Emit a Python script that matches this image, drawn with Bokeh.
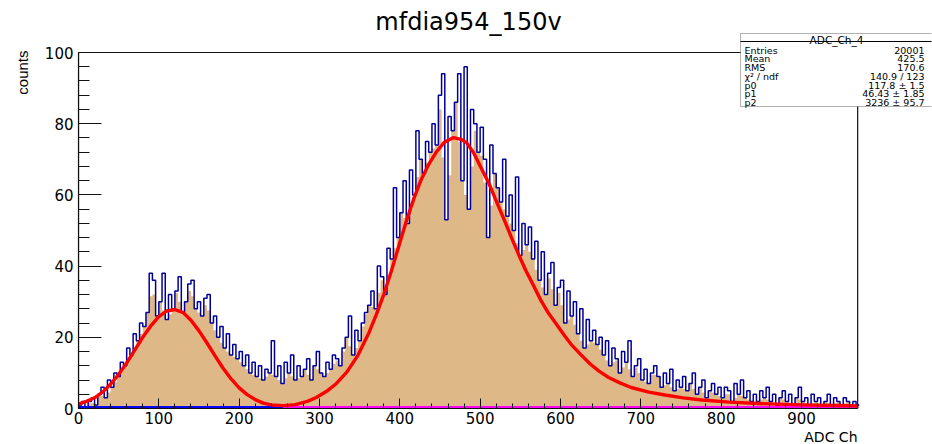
import numpy as np
from math import pi
from bokeh.plotting import figure
from bokeh.models import Range1d, SingleIntervalTicker, Label, BoxAnnotation, Title
from bokeh.embed import file_html
from bokeh.resources import INLINE

# ---------------- data ----------------
bin_width = 4  # ADC channels per bin
counts = [
    1, 2, 0, 2, 3, 1, 4, 6, 3, 8,            # 0-40
    6, 10, 9, 13, 12, 17, 15, 21, 19, 24,    # 40-80
    23, 27, 38, 36, 26, 30, 38, 25, 32, 28,  # 80-120
    33, 37, 27, 30, 35, 36, 28, 30, 26, 31,  # 120-160
    32, 24, 26, 20, 23, 17, 21, 15, 18, 14,  # 160-200
    16, 12, 15, 10, 13, 9, 12, 8, 11, 10,    # 200-240
    19, 9, 12, 7, 13, 10, 15, 8, 12, 9,      # 240-280
    11, 14, 8, 12, 16, 10, 9, 13, 11, 15,    # 280-320
    14, 12, 17, 20, 26, 15, 22, 19, 24, 27,  # 320-360
    29, 33, 28, 40, 37, 32, 45, 42, 62, 48,  # 360-400
    55, 64, 52, 67, 60, 78, 70, 66, 75, 72,  # 400-440
    80, 74, 88, 94, 53, 82, 78, 86, 94, 64,  # 440-480
    96, 56, 84, 80, 72, 79, 70, 48, 74, 66,  # 480-520
    62, 58, 70, 54, 60, 50, 65, 43, 52, 46,  # 520-560
    51, 42, 47, 36, 44, 32, 38, 41, 29, 34,  # 560-600
    36, 24, 33, 26, 30, 21, 28, 17, 25, 19,  # 600-640
    22, 18, 20, 15, 19, 12, 17, 14, 10, 16,  # 640-680
    13, 19, 9, 12, 14, 8, 11, 7, 10, 12,     # 680-720
    9, 6, 10, 7, 11, 5, 8, 6, 9, 5,          # 720-760
    7, 10, 4, 6, 8, 3, 5, 7, 4, 6,           # 760-800
    3, 6, 5, 2, 7, 4, 8, 3, 5, 2,            # 800-840
    4, 2, 5, 3, 6, 2, 4, 1, 3, 5,            # 840-880
    2, 4, 1, 3, 6, 2, 3, 1, 4, 2,            # 880-920
    3, 1, 2, 4, 1, 3, 2, 1, 3, 2,            # 920-960
    1, 2, 1,                                 # 960-972
]

# fitted curve (red)
fit_x = [0, 10, 20, 30, 40, 50, 60, 70, 80, 90, 100, 110, 120, 130, 140, 150,
         160, 170, 180, 190, 200, 210, 220, 230, 240, 255, 270, 285, 296, 310,
         320, 334, 348, 362, 371, 380, 390, 399, 408, 418, 427, 436, 446, 455,
         467, 477, 483, 492, 501, 511, 520, 530, 539, 548, 557, 567, 576, 585,
         595, 604, 613, 625, 637, 648, 660, 674, 688, 710, 730, 753, 776, 810,
         846, 880, 916, 945, 970]
fit_y = [1.2, 2.0, 3.0, 4.6, 6.8, 9.6, 12.8, 16.4, 20.0, 23.2, 25.8, 27.4, 27.8,
         27.0, 24.8, 21.8, 18.4, 14.8, 11.3, 8.3, 5.8, 3.9, 2.5, 1.5, 1.0, 0.8,
         1.1, 2.0, 3.1, 5.0, 6.8, 10.2, 15.0, 21.5, 26.5, 32.0, 39.0, 45.8, 52.5,
         59.3, 64.5, 68.6, 72.2, 74.7, 76.1, 75.5, 74.7, 71.8, 67.7, 63.2, 58.3,
         53.0, 48.0, 43.2, 38.7, 34.3, 30.2, 26.8, 23.7, 20.8, 18.1, 15.2, 12.5,
         10.5, 8.7, 7.2, 5.9, 4.6, 3.8, 3.0, 2.4, 1.8, 1.4, 1.15, 0.94, 0.84, 0.75]

# near-zero component functions drawn along the baseline
comp1_x = [0, 255]
comp1_y = [0.3, 0.3]
comp2_x = [255, 970]
comp2_y = [0.3, 0.3]

x_min, x_max = 0, 970
y_min, y_max = 0, 100
x_ticks_interval = 100
y_ticks_interval = 20

stat_title = "ADC_Ch_4"
stat_names = ["Entries", "Mean", "RMS", "χ² / ndf", "p0", "p1", "p2"]
stat_values = ["20001", "425.5", "170.6", "140.9 / 123", "117.8 ± 1.5",
               "46.43 ± 1.85", "3236 ± 95.7"]

title_text = "mfdia954_150v"
x_label = "ADC Ch"
y_label = "counts"

# ---------------- layout geometry (pixels) ----------------
W, H = 932, 444
FL, FR, FT, FB = 76, 931, 0, 408       # plotting frame (canvas px)
AX_R, AX_T = 857, 52                   # where x_max / y_max sit
px_per_x = (AX_R - FL) / (x_max - x_min)
px_per_y = (FB - AX_T) / (y_max - y_min)
x_end = x_min + (FR - FL) / px_per_x
y_end = y_min + (FB - FT) / px_per_y

FONT = "DejaVu Sans"
p = figure(width=W, height=H, output_backend="svg", toolbar_location=None,
           x_range=Range1d(x_min, x_end), y_range=Range1d(y_min, y_end),
           min_border_left=FL, min_border_right=W - FR,
           min_border_top=FT, min_border_bottom=H - FB)
p.title.text = ""
p.background_fill_color = "white"
p.border_fill_color = "white"
p.outline_line_color = None
p.xgrid.visible = False
p.ygrid.visible = False

edges = np.arange(len(counts) + 1) * bin_width
vals = np.array(counts, dtype=float)
# fill: lower envelope (spikes above neighbours are left unfilled)
nb = (np.r_[vals[0], vals[:-1]] + np.r_[vals[1:], vals[-1]]) / 2.0
fill_top = np.minimum(vals, nb)
xs = np.repeat(edges, 2)[1:-1]
p.varea(x=xs, y1=0, y2=np.repeat(fill_top, 2), fill_color="#DEB887", fill_alpha=1.0)

p.step(x=list(edges[:-1]) + [edges[-1]], y=list(vals) + [vals[-1]], mode="after",
       line_color="#000099", line_width=1.5)

p.line(comp1_x, comp1_y, line_color="#0000ff", line_width=3)
p.line(comp2_x, comp2_y, line_color="#ff00ff", line_width=3)
p.line(fit_x, fit_y, line_color="#ff0000", line_width=3.4, line_join="round")

# ROOT-style frame around the histogram range
p.quad(left=[x_min], right=[x_max], bottom=[y_min], top=[y_max],
       fill_color=None, line_color="#111111", line_width=1.2)

for ax, iv, tin, mtin, bnds in ((p.xaxis, x_ticks_interval, 10, 5, (x_min, x_max)),
                                (p.yaxis, y_ticks_interval, 23, 11, (y_min, y_max))):
    ax.ticker = SingleIntervalTicker(interval=iv, num_minor_ticks=5)
    ax.bounds = bnds
    ax.major_tick_in = tin
    ax.major_tick_out = 0
    ax.minor_tick_in = mtin
    ax.minor_tick_out = 0
    ax.axis_line_color = "#111111"
    ax.axis_line_width = 1.2
    ax.major_tick_line_color = "#111111"
    ax.minor_tick_line_color = "#111111"
    ax.major_label_text_font = FONT
    ax.major_label_text_font_size = "15px"
    ax.major_label_text_color = "black"
p.xaxis.major_label_standoff = 3
p.yaxis.major_label_standoff = 5

# axis titles (ROOT puts them at the far end of each axis)
p.add_layout(Title(text=x_label, align="right", offset=FR - AX_R, standoff=0,
                   text_font=FONT, text_font_size="14px", text_font_style="normal",
                   text_color="black"), "below")
p.add_layout(Title(text=y_label, align="right", offset=AX_T - 2, standoff=22,
                   text_font="Liberation Sans", text_font_size="15px",
                   text_font_style="normal", text_color="black"), "left")

# texts inside the frame (screen units: x from frame left, y up from frame bottom)
def sx(cx):
    return cx - FL
def sy(cy):
    return FB - cy

p.add_layout(Label(x=sx(466), y=sy(21), x_units="screen", y_units="screen",
                   text=title_text, text_align="center", text_baseline="alphabetic",
                   text_font=FONT, text_font_size="24px", text_color="black"))

# stats box
p.add_layout(BoxAnnotation(left=sx(738), right=sx(930), top=sy(33), bottom=sy(106),
                           left_units="screen", right_units="screen",
                           top_units="screen", bottom_units="screen",
                           fill_color="white", fill_alpha=1.0,
                           line_color="black", line_width=1))
p.add_layout(BoxAnnotation(left=sx(738), right=sx(930), top=sy(40.5), bottom=sy(41.5),
                           left_units="screen", right_units="screen",
                           top_units="screen", bottom_units="screen",
                           fill_color="black", fill_alpha=1.0, line_color=None))
p.add_layout(Label(x=sx(834), y=sy(39.5), x_units="screen", y_units="screen",
                   text=stat_title, text_align="center", text_baseline="alphabetic",
                   text_font=FONT, text_font_size="10.5px", text_color="black"))
for i, (nm, vv) in enumerate(zip(stat_names, stat_values)):
    base = 49.5 + 8.75 * i
    p.add_layout(Label(x=sx(742), y=sy(base), x_units="screen", y_units="screen",
                       text=nm, text_align="left", text_baseline="alphabetic",
                       text_font=FONT, text_font_size="9.5px", text_color="black"))
    p.add_layout(Label(x=sx(922), y=sy(base), x_units="screen", y_units="screen",
                       text=vv, text_align="right", text_baseline="alphabetic",
                       text_font=FONT, text_font_size="9.5px", text_color="black"))

open("out.html", "w").write(file_html(p, INLINE))
